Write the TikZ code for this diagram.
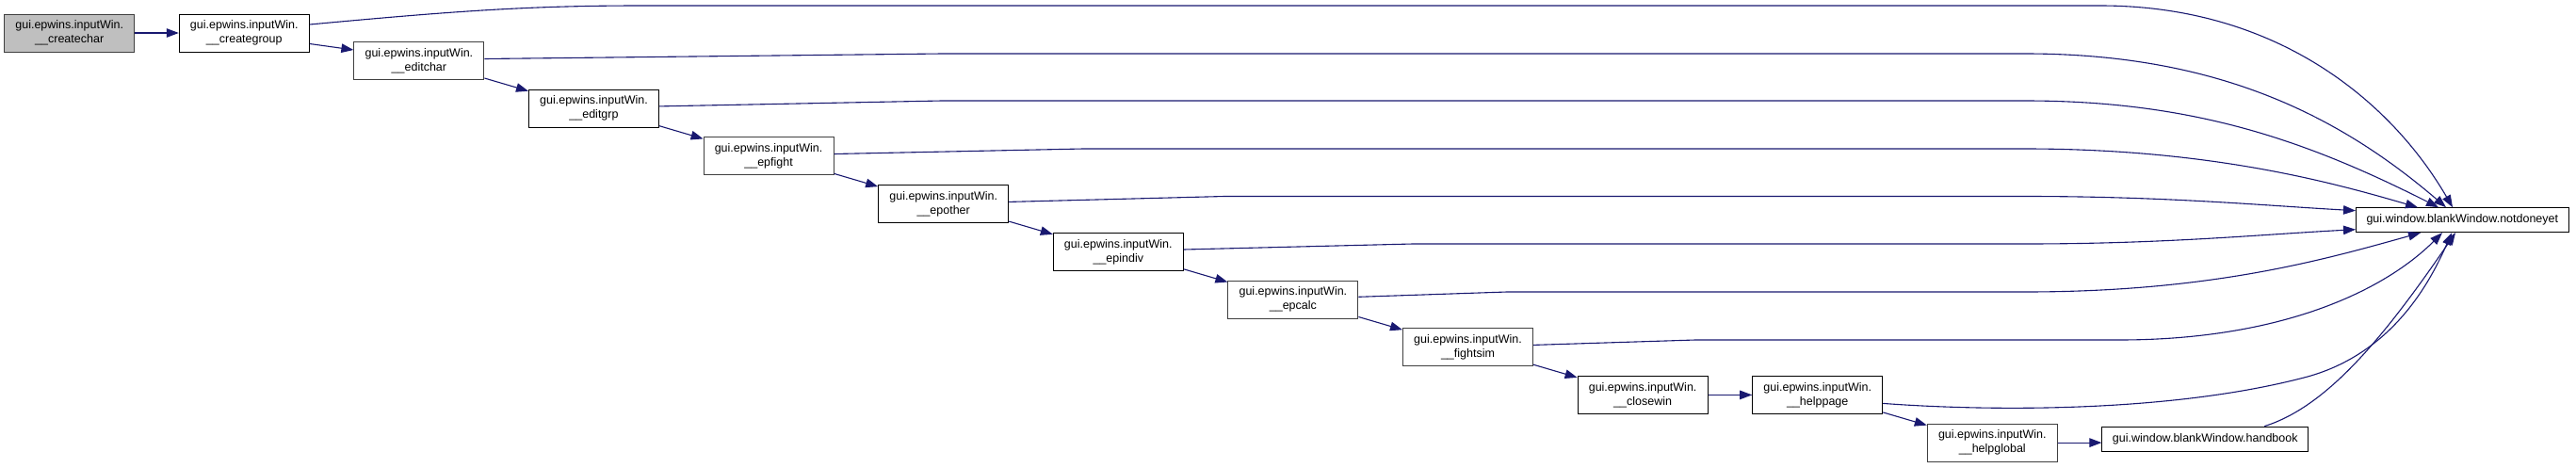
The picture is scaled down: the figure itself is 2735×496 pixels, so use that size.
\documentclass[tikz,border=0pt]{standalone}
\usepackage{fontspec}
\setmainfont{Liberation Sans}
\usetikzlibrary{arrows.meta,positioning}
\definecolor{callblue}{HTML}{191970}
\definecolor{rootgray}{HTML}{BFBFBF}
\definecolor{framegray}{HTML}{404040}

\begin{document}
\begin{tikzpicture}[
  x=1pt, y=-1pt,
  fn/.style={draw=black, fill=white, line width=1pt, minimum width=138pt,
             minimum height=40pt, inner xsep=11pt, inner ysep=2pt, align=center,
             font=\fontsize{12.5}{15}\selectfont},
  fnline/.style={fn, minimum width=0pt, minimum height=26pt},
  undoc/.style={draw=framegray},
  root/.style={fill=rootgray, draw=framegray},
  call/.style={-{Triangle[length=13pt,width=9.5pt]}, draw=callblue, line width=1.1pt},
  node distance=9.7pt and 46.6pt
]
\useasboundingbox (0,0) rectangle (2735,496);

\node[fn, root] (createchar) at (73.7,35) {gui.epwins.inputWin.\\\_\_createchar};
\node[fn, right=of createchar] (creategroup) {gui.epwins.inputWin.\\\_\_creategroup};
\node[fn, undoc, right=of creategroup, yshift=-29.5pt] (editchar) {gui.epwins.inputWin.\\\_\_editchar};
\node[fn, below right=of editchar] (editgrp) {gui.epwins.inputWin.\\\_\_editgrp};
\node[fn, undoc, below right=of editgrp] (epfight) {gui.epwins.inputWin.\\\_\_epfight};
\node[fn, below right=of epfight] (epother) {gui.epwins.inputWin.\\\_\_epother};
\node[fn, below right=of epother] (epindiv) {gui.epwins.inputWin.\\\_\_epindiv};
\node[fn, undoc, below right=of epindiv] (epcalc) {gui.epwins.inputWin.\\\_\_epcalc};
\node[fn, undoc, below right=of epcalc] (fightsim) {gui.epwins.inputWin.\\\_\_fightsim};
\node[fn, below right=of fightsim] (closewin) {gui.epwins.inputWin.\\\_\_closewin};
\node[fn, right=of closewin] (helppage) {gui.epwins.inputWin.\\\_\_helppage};
\node[fn, undoc, below right=of helppage] (helpglobal) {gui.epwins.inputWin.\\\_\_helpglobal};
\node[fnline, right=of helpglobal, yshift=4pt] (handbook) {gui.window.blankWindow.handbook};
\node[fnline] (notdoneyet) at (2614.3,233.7) {gui.window.blankWindow.notdoneyet};

\draw[call] (createchar)--(creategroup);
\draw[call] ([yshift=9pt]creategroup.south east)--([yshift=-9pt]editchar.north west);
\draw[call] ([yshift=2pt]editchar.south east)--([yshift=-2pt]editgrp.north west);
\draw[call] ([yshift=2pt]editgrp.south east)--([yshift=-2pt]epfight.north west);
\draw[call] ([yshift=2pt]epfight.south east)--([yshift=-2pt]epother.north west);
\draw[call] ([yshift=2pt]epother.south east)--([yshift=-2pt]epindiv.north west);
\draw[call] ([yshift=2pt]epindiv.south east)--([yshift=-2pt]epcalc.north west);
\draw[call] ([yshift=2pt]epcalc.south east)--([yshift=-2pt]fightsim.north west);
\draw[call] ([yshift=2pt]fightsim.south east)--([yshift=-2pt]closewin.north west);
\draw[call] (closewin)--(helppage);
\draw[call] ([yshift=2pt]helppage.south east)--([yshift=-2pt]helpglobal.north west);
\draw[call] (helpglobal.east)--(helpglobal.east -| handbook.west);

\draw[call] ([yshift=9pt]creategroup.east) .. controls (480,12) and (560,6) .. (680,6) -- (2230,6)
  .. controls (2420,6) and (2540,110) .. ([xshift=103pt]notdoneyet.north west);
\draw[call] ([yshift=2pt]editchar.east) -- (1000,57) -- (2150,57)
  .. controls (2350,57) and (2480,120) .. ([xshift=96pt]notdoneyet.north west);
\draw[call] ([yshift=2.3pt]editgrp.east) -- (1000,107) -- (2150,107)
  .. controls (2330,107) and (2450,150) .. ([xshift=88pt]notdoneyet.north west);
\draw[call] ([yshift=2.4pt]epfight.east) -- (1150,158) -- (2150,158)
  .. controls (2350,158) and (2480,195) .. ([xshift=66pt]notdoneyet.north west);
\draw[call] ([yshift=2.2pt]epother.east) -- (1300,208.5) -- (2150,208.5)
  .. controls (2300,208.5) and (2400,218) .. ([yshift=10pt]notdoneyet.west);
\draw[call] ([yshift=2.3pt]epindiv.east) -- (1500,259) -- (2150,259)
  .. controls (2300,259) and (2400,249) .. ([yshift=-10pt]notdoneyet.west);
\draw[call] ([yshift=2.7pt]epcalc.east) -- (1600,310) -- (2150,310)
  .. controls (2350,310) and (2470,275) .. ([xshift=69pt]notdoneyet.south west);
\draw[call] ([yshift=2.3pt]fightsim.east) -- (1800,361) -- (2250,361)
  .. controls (2420,361) and (2530,310) .. ([xshift=92pt]notdoneyet.south west);
\draw[call] ([yshift=-9pt]helppage.east) .. controls (2100,436) and (2300,440) .. (2450,400)
  .. controls (2540,375) and (2580,300) .. ([xshift=102pt]notdoneyet.south west);
\draw[call] ([xshift=63pt]handbook.north) .. controls (2470,432) and (2530,360)
  .. ([xshift=106pt]notdoneyet.south west);
\end{tikzpicture}
\end{document}
